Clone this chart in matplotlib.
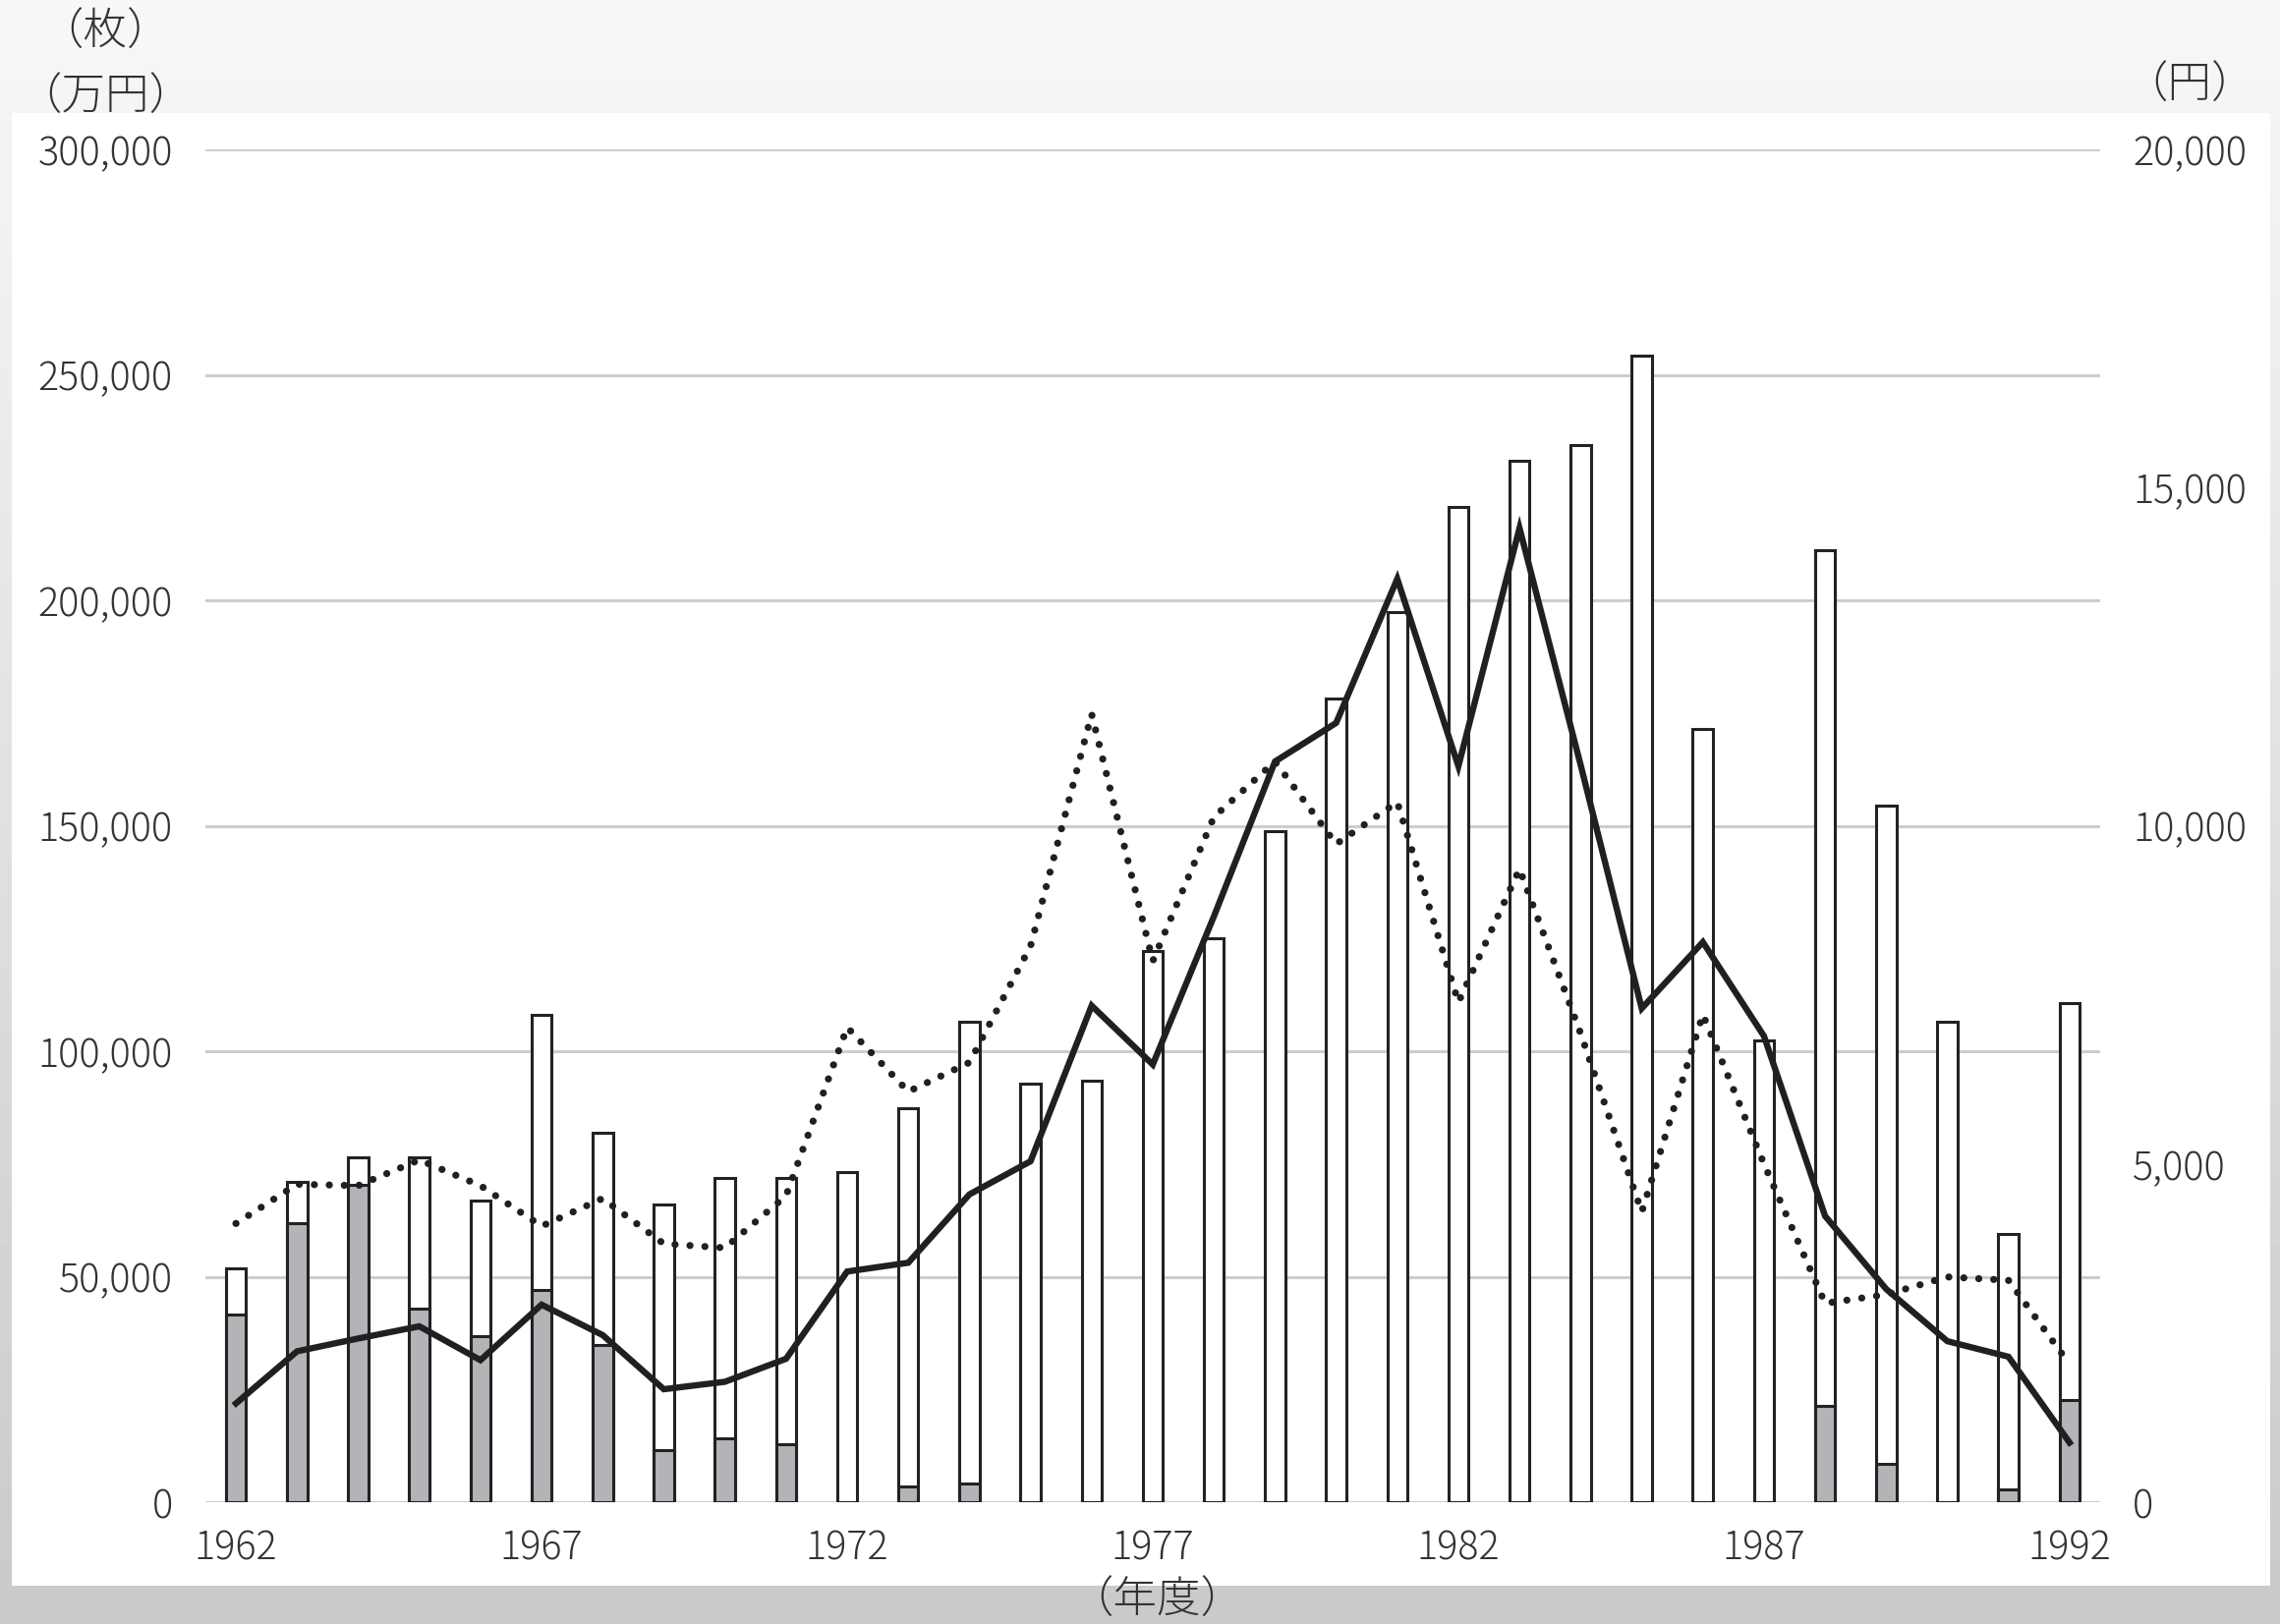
import numpy as np
import matplotlib
matplotlib.use('Agg')
import matplotlib.pyplot as plt
from matplotlib.patches import Rectangle
from matplotlib.ticker import FuncFormatter

plt.rcParams['font.family'] = ['Noto Sans CJK JP', 'DejaVu Sans']

# 年度
years = list(range(1962, 1993))

# 棒グラフ（左軸：枚・万円）全体の高さ
bar_total = [51900, 71000, 76500, 76500, 66800, 108000, 82000, 66100, 71900, 72000,
             73200, 87400, 106500, 92900, 93500, 122200, 125000, 148800, 178200, 197400,
             220600, 230900, 234400, 254200, 171400, 102300, 211100, 154500, 106500, 59400,
             110600]
# 棒の灰色部分
bar_grey = [41600, 61900, 70300, 42900, 36800, 47100, 34800, 11600, 14200, 12900,
            0, 3500, 4200, 0, 0, 0, 0, 0, 0, 0,
            0, 0, 0, 0, 0, 0, 21300, 8400, 0, 2900,
            22600]

# 右軸（円）
solid_line = [1460, 2230, 2420, 2600, 2100, 2920, 2470, 1670, 1780, 2120,
              3410, 3540, 4550, 5040, 7340, 6470, 8660, 10950, 11520, 13650,
              10880, 14400, 10900, 7300, 8280, 6890, 4230, 3150, 2380, 2150,
              880]
dotted_line = [4120, 4700, 4680, 5060, 4680, 4080, 4490, 3820, 3760, 4530,
               7020, 6070, 6500, 8220, 11650, 8000, 10130, 10950, 9730, 10350,
               7390, 9360, 6930, 4290, 7210, 5000, 2940, 3070, 3330, 3280,
               2040]

left_ticks = [0, 50000, 100000, 150000, 200000, 250000, 300000]
right_ticks = [0, 5000, 10000, 15000, 20000]
year_ticks = [1962, 1967, 1972, 1977, 1982, 1987, 1992]

W, H = 2320, 1653
fig = plt.figure(figsize=(W / 100, H / 100), dpi=100)

# 背景のグラデーション
bg = fig.add_axes([0, 0, 1, 1], zorder=-10)
grad = np.linspace(0.97, 0.79, 256).reshape(-1, 1)
bg.imshow(grad, aspect='auto', cmap='gray', vmin=0, vmax=1, extent=[0, 1, 0, 1])
bg.axis('off')

# 白いパネル
fig.patches.append(Rectangle((12 / W, 1 - 1614 / H), (2310 - 12) / W, (1614 - 115) / H,
                             transform=fig.transFigure, facecolor='white',
                             edgecolor='none', zorder=-5))

ax = fig.add_axes([209 / W, 1 - 1529 / H, (2137 - 209) / W, (1529 - 152) / H])
ax.set_facecolor('none')
ax2 = ax.twinx()

x = np.array(years)
bw = 0.33
ax.bar(x, bar_total, width=bw, color='white', edgecolor='#222222', linewidth=2.2, zorder=3)
grey_years = [y for y, g in zip(years, bar_grey) if g > 0]
grey_vals = [g for g in bar_grey if g > 0]
ax.bar(grey_years, grey_vals, width=bw, color='#b3b4b7', edgecolor='#222222', linewidth=2.2, zorder=4)

ax2.plot(x, solid_line, color='#231f20', linewidth=4.6, solid_joinstyle='miter', zorder=5)
ax2.plot(x, dotted_line, color='#231f20', linewidth=5.2, linestyle=(0, (0.01, 2.1)),
         dash_capstyle='round', zorder=5)

ax.set_xlim(1961.5, 1992.5)
ax.set_ylim(0, 300000)
ax2.set_ylim(0, 20000)
ax.set_yticks(left_ticks)
ax2.set_yticks(right_ticks)
ax.set_xticks(year_ticks)

fmt = FuncFormatter(lambda v, p: f'{int(v):,}')
ax.yaxis.set_major_formatter(fmt)
ax2.yaxis.set_major_formatter(fmt)

ax.grid(axis='y', color='#cdcdd0', linewidth=2.2, zorder=0)
ax.set_axisbelow(True)
for a in (ax, ax2):
    for s in a.spines.values():
        s.set_visible(False)
    a.tick_params(length=0, labelsize=28.5, colors='#333333')
    for lab in a.get_xticklabels() + a.get_yticklabels():
        lab.set_fontweight('light')
ax.tick_params(axis='y', pad=24)
ax2.tick_params(axis='y', pad=24)
ax.tick_params(axis='x', pad=19)

tc = '#333333'
fig.text(107 / W, 1 - 33 / H, '（枚）', ha='center', va='center', fontsize=32, color=tc, fontweight='light')
fig.text(107 / W, 1 - 99 / H, '（万円）', ha='center', va='center', fontsize=32, color=tc, fontweight='light')
fig.text(2228 / W, 1 - 87 / H, '（円）', ha='center', va='center', fontsize=32, color=tc, fontweight='light')
fig.text(1177 / W, 1 - 1629 / H, '（年度）', ha='center', va='center', fontsize=32, color=tc, fontweight='light')

fig.savefig('out.png', dpi=100)
